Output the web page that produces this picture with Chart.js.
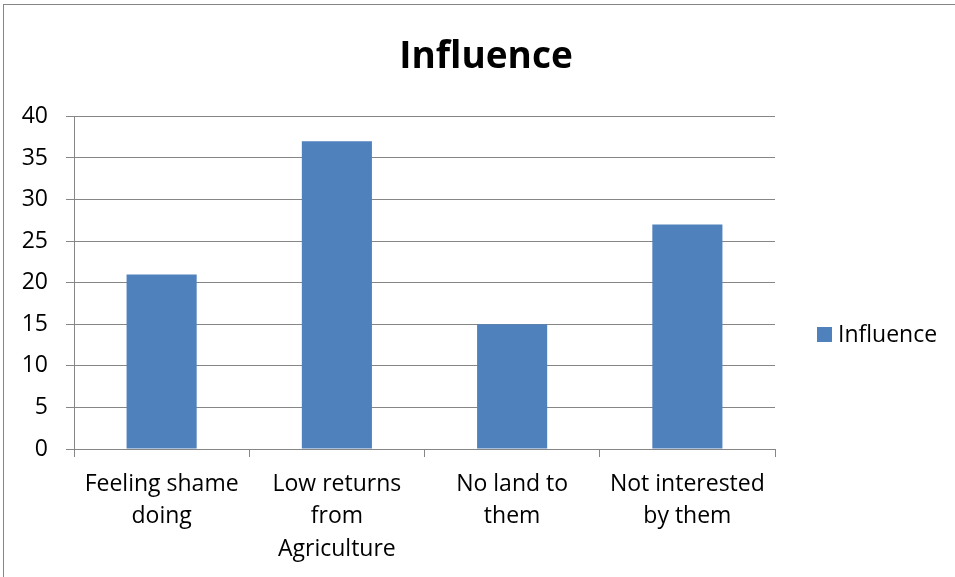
<!DOCTYPE html>
<html>
<head>
<meta charset="utf-8">
<title>Influence</title>
<script src="https://cdn.jsdelivr.net/npm/chart.js@4/dist/chart.umd.min.js"></script>
<style>
  html, body { margin: 0; padding: 0; background: #fff; width: 955px; height: 577px; overflow: hidden; }
  #frame { position: absolute; left: 3px; top: 4px; width: 966px; height: 640px;
           border: 1px solid #868686; box-sizing: border-box; }
  #wrap { position: absolute; left: 0; top: 0; width: 964px; height: 600px; }
  canvas { display: block; }
</style>
</head>
<body>
<div id="frame"><div id="wrap"><canvas id="chart" width="964" height="600" style="width:964px;height:600px"></canvas></div></div>
<script>
// Reasons given, one label per bar (multi-line labels as arrays)
const categories = [
  ["Feeling shame", "doing"],
  ["Low returns", "from", "Agriculture"],
  ["No land to", "them"],
  ["Not interested", "by them"]
];
// Number of respondents per reason
const influence = [21, 37, 15, 27];
// Value axis range
const yMin = 0;
const yMax = 40;
const yStep = 5;

const seriesName = "Influence";
const barColor = "#4f81bd";
const lineColor = "#868686";
const fontFamily = "'Open Sans', Lato, sans-serif";

// Centre the title across the whole chart, not only over the plot,
// and draw the legend beside the plot on the right
const sideLegend = {
  id: "sideLegend",
  afterLayout(chart) {
    if (chart.titleBlock) {
      chart.titleBlock.left = 0;
      chart.titleBlock.right = chart.width;
    }
  },
  afterDraw(chart) {
    const ctx = chart.ctx;
    const area = chart.chartArea;
    ctx.save();
    chart.data.datasets.forEach((ds, i) => {
      const x = area.right + 42;
      const y = 322 + i * 34;
      ctx.fillStyle = ds.backgroundColor;
      ctx.fillRect(x, y, 15, 15);
      ctx.fillStyle = "#000";
      ctx.font = "23px " + fontFamily;
      ctx.textAlign = "left";
      ctx.textBaseline = "alphabetic";
      ctx.fillText(ds.label, x + 21, y + 15);
    });
    ctx.restore();
  }
};

new Chart(document.getElementById("chart"), {
  type: "bar",
  data: {
    labels: categories,
    datasets: [{
      label: seriesName,
      data: influence,
      backgroundColor: barColor,
      borderWidth: 0,
      categoryPercentage: 1.0,
      barPercentage: 0.4
    }]
  },
  options: {
    responsive: false,
    animation: false,
    devicePixelRatio: 1,
    layout: { padding: { top: 0, left: 0, right: 193, bottom: 0 } },
    plugins: {
      legend: { display: false },
      tooltip: { enabled: false },
      title: {
        display: true,
        text: seriesName,
        color: "#000",
        font: { family: fontFamily, size: 37, weight: "bold", lineHeight: 1.2 },
        padding: { top: 30, bottom: 37 }
      }
    },
    scales: {
      x: {
        offset: true,
        grid: { display: true, drawOnChartArea: false, drawTicks: true, tickLength: 8, color: lineColor, offset: true },
        border: { display: true, color: lineColor, width: 1 },
        ticks: {
          color: "#000",
          padding: 11,
          maxRotation: 0,
          autoSkip: false,
          font: { family: fontFamily, size: 23, lineHeight: 32.5 / 23 }
        },
        afterFit(scale) { scale.height = 156; }
      },
      y: {
        min: yMin,
        max: yMax,
        grid: { color: lineColor, tickLength: 8, drawTicks: true },
        border: { display: true, color: lineColor, width: 1 },
        ticks: {
          stepSize: yStep,
          color: "#000",
          padding: 18,
          font: { family: fontFamily, size: 23 }
        },
        afterFit(scale) { scale.width = 70; }
      }
    }
  },
  plugins: [sideLegend]
});
</script>
</body>
</html>
